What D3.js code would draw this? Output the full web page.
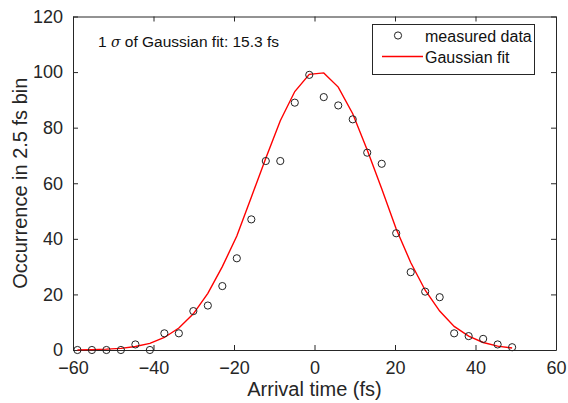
<!DOCTYPE html>
<html>
<head>
<meta charset="utf-8">
<script src="https://cdn.jsdelivr.net/npm/d3@7"></script>
<style>
  body { margin: 0; background: #fff; }
  svg { display: block; font-family: "Liberation Sans", Arial, sans-serif; }
</style>
</head>
<body>
<svg width="568" height="403"></svg>
<script>
// arrival time bins (fs)
const times = [-58.9, -55.3, -51.7, -48.1, -44.5, -40.9, -37.3, -33.7, -30.1, -26.5,
  -22.9, -19.3, -15.7, -12.1, -8.5, -4.9, -1.3, 2.3, 5.9, 9.5,
  13.1, 16.7, 20.3, 23.9, 27.5, 31.1, 34.7, 38.3, 41.9, 45.5, 49.1];
// measured occurrences
const counts = [0, 0, 0, 0, 2, 0, 6, 6, 14, 16,
  23, 33, 47, 68, 68, 89, 99, 91, 88, 83,
  71, 67, 42, 28, 21, 19, 6, 5, 4, 2, 1];
// gaussian fit
const fitVals = [0.05, 0.12, 0.3, 0.6, 1.25, 2.4, 4.5, 7.9, 13, 20.4,
  30, 41, 55, 69, 82.5, 93, 99.2, 99.7, 94.6, 85,
  72, 58, 43.5, 31.5, 21.5, 14, 8.5, 5, 2.7, 1.4, 0.7];

const xTicks = [-60, -40, -20, 0, 20, 40, 60];
const yTicks = [0, 20, 40, 60, 80, 100, 120];
const legendLabels = ['measured data', 'Gaussian fit'];
const note = 'of Gaussian fit: 15.3 fs';

const ink = '#262626';
const svg = d3.select('svg');
const L = 73, R = 556, T = 16.5, B = 350;

const x = d3.scaleLinear().domain([-60, 60]).range([L, R]);
const y = d3.scaleLinear().domain([0, 120]).range([B, T]);

// axes (ticks pointing inward, box around)
svg.append('g').attr('transform', `translate(0,${B})`)
  .call(d3.axisBottom(x).tickValues(xTicks).tickSizeInner(-5).tickSizeOuter(0).tickPadding(11))
  .call(g => g.selectAll('text').attr('font-size', 18));
svg.append('g').attr('transform', `translate(0,${T})`)
  .call(d3.axisTop(x).tickValues(xTicks).tickSizeInner(-5).tickSizeOuter(0).tickFormat(''));
svg.append('g').attr('transform', `translate(${L},0)`)
  .call(d3.axisLeft(y).tickValues(yTicks).tickSizeInner(-5).tickSizeOuter(0).tickPadding(10))
  .call(g => g.selectAll('text').attr('font-size', 18));
svg.append('g').attr('transform', `translate(${R},0)`)
  .call(d3.axisRight(y).tickValues(yTicks).tickSizeInner(-5).tickSizeOuter(0).tickFormat(''));

svg.selectAll('.domain').attr('stroke', ink);
svg.selectAll('.tick line').attr('stroke', ink);
svg.selectAll('.tick text').attr('fill', ink).attr('font-family', '"Liberation Sans", Arial, sans-serif');

// axis labels
svg.append('text').attr('x', (L + R) / 2).attr('y', 396)
  .attr('text-anchor', 'middle').attr('font-size', 20).attr('fill', ink)
  .text('Arrival time (fs)');
svg.append('text').attr('transform', `translate(27,${(T + B) / 2}) rotate(-90)`)
  .attr('text-anchor', 'middle').attr('font-size', 20).attr('fill', ink)
  .text('Occurrence in 2.5 fs bin');

// fit curve
const line = d3.line().x((d, i) => x(times[i])).y(d => y(d));
svg.append('path').datum(fitVals)
  .attr('d', line).attr('fill', 'none').attr('stroke', '#ff0000').attr('stroke-width', 1.4);

// measured points
svg.append('g').selectAll('circle')
  .data(counts)
  .join('circle')
  .attr('cx', (d, i) => x(times[i]))
  .attr('cy', d => y(d))
  .attr('r', 3.6)
  .attr('fill', 'none')
  .attr('stroke', '#222')
  .attr('stroke-width', 1);

// annotation
const ann = svg.append('text').attr('x', 98).attr('y', 46.5).attr('font-size', 15.5).attr('fill', '#111');
ann.append('tspan').text('1 ');
ann.append('tspan').attr('font-style', 'italic').attr('font-family', '"DejaVu Serif", serif').attr('font-size', 14).text('σ');
ann.append('tspan').text(' ' + note);

// legend
const lg = svg.append('g');
lg.append('rect').attr('x', 372.5).attr('y', 24.5).attr('width', 162).attr('height', 50)
  .attr('fill', '#fff').attr('stroke', ink).attr('stroke-width', 1);
lg.append('circle').attr('cx', 398).attr('cy', 35.5).attr('r', 3.6)
  .attr('fill', 'none').attr('stroke', '#222');
lg.append('line').attr('x1', 382).attr('x2', 423).attr('y1', 56.5).attr('y2', 56.5)
  .attr('stroke', '#ff0000').attr('stroke-width', 1.4);
lg.selectAll('text.lbl').data(legendLabels).join('text')
  .attr('class', 'lbl')
  .attr('x', 425).attr('y', (d, i) => 42 + i * 21)
  .attr('font-size', 16).attr('fill', '#111')
  .text(d => d);
</script>
</body>
</html>
